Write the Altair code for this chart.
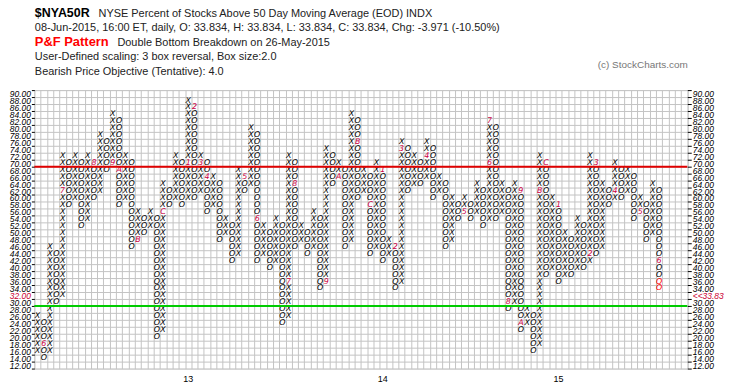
import altair as alt
import pandas as pd

# ---- P&F columns (first column is X, then alternating O / X), low and high box ----
col_lo = [16, 14, 16, 30, 32, 58, 60, 52, 54, 60, 62, 68, 70, 58, 60, 46, 48, 50, 52, 20,
          22, 58, 60, 58, 60, 60, 62, 56, 58, 48, 50, 42, 44, 62, 64, 42, 44, 40, 42, 24,
          26, 46, 48, 44, 46, 34, 36, 64, 66, 46, 48, 60, 62, 44, 46, 42, 44, 34, 36, 62,
          64, 64, 66, 60, 62, 46, 48, 54, 56, 54, 56, 52, 54, 54, 56, 28, 30, 22, 24, 16,
          18, 38, 40, 36, 38, 38, 40, 40, 42, 44, 46, 58, 60, 60, 62, 54, 56, 48, 50, 34]
col_hi = [26, 24, 46, 44, 72, 70, 72, 70, 72, 70, 78, 76, 84, 82, 72, 70, 56, 54, 56, 54,
          64, 62, 72, 70, 88, 86, 72, 70, 66, 64, 54, 52, 68, 66, 80, 78, 52, 50, 54, 52,
          72, 70, 52, 50, 56, 54, 74, 72, 70, 68, 84, 82, 68, 66, 70, 68, 48, 46, 76, 74,
          72, 70, 76, 74, 66, 64, 60, 58, 60, 58, 64, 62, 82, 80, 64, 62, 64, 62, 28, 26,
          72, 70, 60, 58, 50, 48, 54, 52, 72, 70, 64, 62, 70, 68, 68, 66, 60, 58, 64, 62]

# month markers (column, box, character)
mk_col = [2, 5, 10, 13, 14, 17, 21, 25, 26, 27, 28, 34, 36, 41, 42, 47, 49, 52, 54, 56,
          58, 59, 63, 69, 73, 73, 76, 78, 78, 81, 82, 84, 89, 90, 93, 97, 100]
mk_val = [18, 62, 70, 70, 68, 48, 56, 70, 86, 70, 66, 66, 54, 36, 64, 36, 66, 76, 58, 68,
          46, 74, 72, 56, 70, 82, 30, 62, 24, 62, 70, 58, 44, 70, 62, 56, 42]
mk_char = ["6", "7", "8", "9", "A", "B", "C", "1", "2", "3", "4", "5", "6", "7", "8", "9", "A", "B", "C", "1",
           "2", "3", "4", "5", "6", "7", "8", "9", "A", "B", "C", "1", "2", "3", "4", "5", "6"]

latest_col = 100
latest_vals = [36, 34]

price_levels = list(range(90, 10, -2))   # 90.00 ... 12.00
n_cols = 104
year_cols = [25, 56, 84]
year_text = ["13", "14", "15"]
upper_level = [70]   # red line under the 70 box
lower_level = [30]   # green line under the 30 box

title_sym = "$NYA50R"
title_name = "NYSE Percent of Stocks Above 50 Day Moving Average (EOD)  INDX"
title_line2 = "08-Jun-2015, 16:00 ET, daily, O: 33.834, H: 33.834, L: 33.834, C: 33.834, Chg: -3.971 (-10.50%)"
title_pattern = "P&F Pattern"
title_pattern_txt = "Double Bottom Breakdown on 26-May-2015"
title_line4 = "User-Defined scaling: 3 box reversal, Box size:2.0"
title_line5 = "Bearish Price Objective (Tentative): 4.0"
credit = "(c) StockCharts.com"

# ---- build box table ----
mk = {(c, v): ch for c, v, ch in zip(mk_col, mk_val, mk_char)}
rows = []
for i, (lo, hi) in enumerate(zip(col_lo, col_hi)):
    c = i + 1
    sym = "X" if i % 2 == 0 else "O"
    for v in range(lo, hi + 1, 2):
        if (c, v) in mk:
            rows.append(dict(col=c, val=v, t=mk[(c, v)], kind="marker"))
        elif c == latest_col and v in latest_vals:
            rows.append(dict(col=c, val=v, t=sym, kind="latest"))
        else:
            rows.append(dict(col=c, val=v, t=sym, kind="box"))
boxes = pd.DataFrame(rows)

W = 104 * 6.3125
H = 280
GRID = "#c4c4c4"

x_enc = alt.X("col:O",
              scale=alt.Scale(domain=list(range(1, n_cols + 1)), paddingInner=0, paddingOuter=0),
              axis=alt.Axis(title=None, labels=False, ticks=False, domain=False, grid=True,
                            tickBand="extent", gridColor=GRID, gridWidth=1))
yscale = alt.Scale(domain=price_levels, paddingInner=0, paddingOuter=0)

y_left = alt.Y("val:O", scale=yscale,
               axis=alt.Axis(title=None, orient="left", grid=True, gridColor=GRID, gridWidth=1,
                             tickBand="extent", domain=False, ticks=True, tickColor="#000000",
                             tickSize=3, labelPadding=1, labelFont="Liberation Sans",
                             labelFontStyle="italic", labelFontSize=8.5, labelOverlap=False,
                             labelExpr="isValid(datum.value) ? format(datum.value, '.2f') : ''",
                             labelColor=alt.condition("datum.value == 32", alt.value("#cc0033"), alt.value("#000000"))))

y_right = alt.Y("val:O", scale=yscale,
                axis=alt.Axis(title=None, orient="right", grid=False, tickBand="extent", domain=False,
                              ticks=True, tickColor="#000000", tickSize=4, labelPadding=1,
                              labelFont="Liberation Sans", labelFontStyle="italic", labelFontSize=8.5,
                              labelOverlap=False,
                              labelExpr="!isValid(datum.value) ? '' : (datum.value == 32 ? '<<33.83' : format(datum.value, '.2f'))",
                              labelColor=alt.condition("datum.value == 32", alt.value("#cc0033"), alt.value("#000000"))))

boxes_layer = alt.Chart(boxes).mark_text(font="DejaVu Sans", fontStyle="italic", fontSize=8,
                                         baseline="middle", align="center").encode(
    x=x_enc, y=y_left, text="t:N",
    color=alt.Color("kind:N", scale=alt.Scale(domain=["box", "marker", "latest"],
                                              range=["#000000", "#cc0044", "#ff0000"]), legend=None))

right_axis_layer = alt.Chart(pd.DataFrame({"val": price_levels})).mark_tick(opacity=0).encode(y=y_right)

red_line = alt.Chart(pd.DataFrame({"val": upper_level})).mark_rule(color="#e00000", strokeWidth=2).encode(
    y=alt.Y("val:O", scale=yscale, bandPosition=1, axis=None))
green_line = alt.Chart(pd.DataFrame({"val": lower_level})).mark_rule(color="#00cc00", strokeWidth=2).encode(
    y=alt.Y("val:O", scale=yscale, bandPosition=1, axis=None))

years = alt.Chart(pd.DataFrame({"col": year_cols, "t": year_text})).mark_text(
    font="Liberation Sans", fontSize=9, baseline="middle", align="center", color="#000000").encode(
    x=x_enc, y=alt.value(H + 11), text="t:N")


def txt(s, x, y, size=11, weight="normal", color="#000000", align="left", font="Liberation Sans"):
    return alt.Chart(pd.DataFrame({"t": [s]})).mark_text(
        font=font, fontSize=size, fontWeight=weight, color=color, align=align, baseline="alphabetic").encode(
        text="t:N", x=alt.value(x), y=alt.value(y))


titles = [
    txt(title_sym, 0.5, -74, size=12.5, weight="bold"),
    txt(title_name, 64.5, -74, size=11, color="#222222"),
    txt(title_line2, 0.5, -59, size=11, color="#222222"),
    txt(title_pattern, 0.5, -44.5, size=13, weight="bold", color="#ff0000"),
    txt(title_pattern_txt, 83.5, -44.5, size=11, color="#222222"),
    txt(title_line4, 0.5, -30.5, size=11, color="#222222"),
    txt(title_line5, 0.5, -15, size=11, color="#222222"),
    txt(credit, 657, -22, size=10, color="#777777", align="right"),
]

chart = alt.layer(boxes_layer, right_axis_layer, red_line, green_line, years, *titles).resolve_axis(
    y="independent"
).properties(
    width=W, height=H,
    padding={"left": 26.5, "top": 81.5, "right": 50, "bottom": 20},
    autosize=alt.AutoSizeParams(type="none"),
).configure_view(stroke=GRID).configure(background="white")

chart.save("out.html", embed_options={"renderer": "svg", "actions": False})
